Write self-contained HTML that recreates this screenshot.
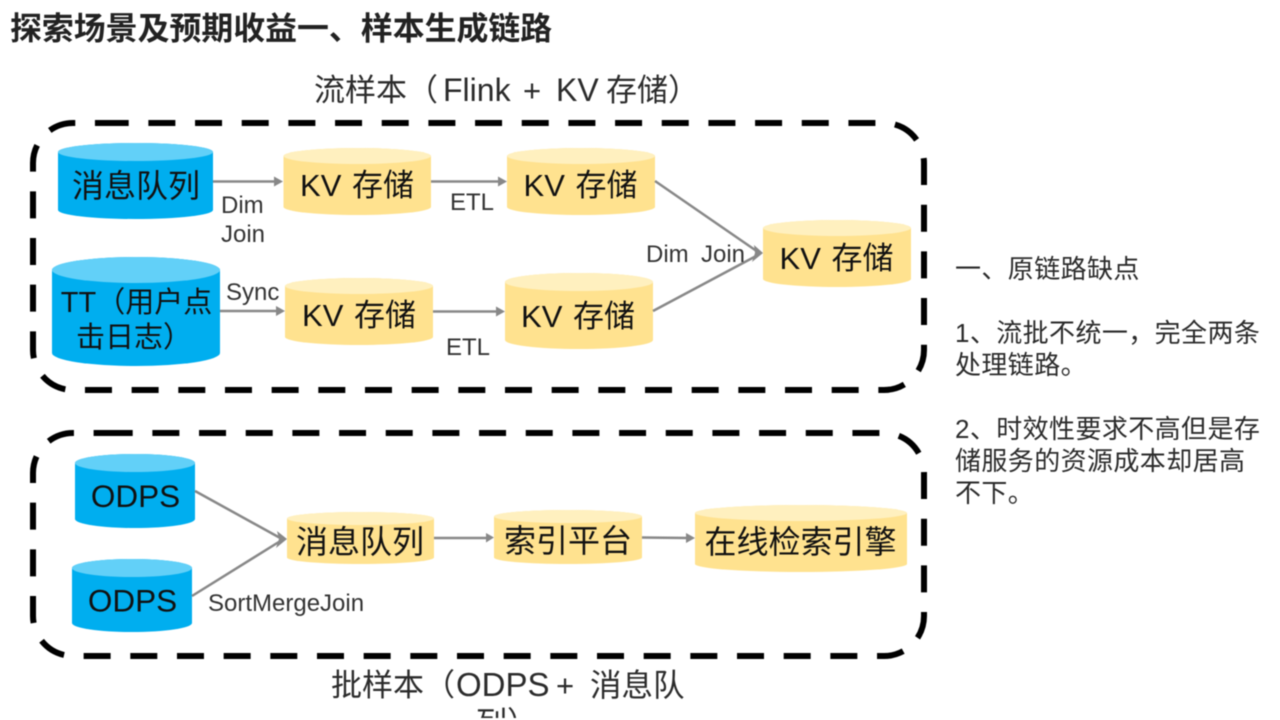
<!DOCTYPE html>
<html lang="zh">
<head>
<meta charset="utf-8">
<style>
html,body{margin:0;padding:0;background:#fff;width:1280px;height:720px;overflow:hidden}
svg{display:block;filter:blur(.5px)}
text{font-family:"Liberation Sans","Noto Sans CJK SC",sans-serif;fill:#1a1a1a}
.c{font-size:32px;text-anchor:middle;fill:#111}
.k{word-spacing:2px}
.l{font-size:24px;fill:#333}
.h{font-size:31px;fill:#2b2b2b}
.r{font-size:26px;fill:#2b2b2b;letter-spacing:.4px}
.box{fill:none;stroke:#000;stroke-width:6;stroke-dasharray:27 19.67}
.ar{stroke:#888;stroke-width:2.5;fill:none}
.hd{fill:#888}
</style>
</head>
<body>
<svg width="1280" height="720" viewBox="0 0 1280 720" xmlns="http://www.w3.org/2000/svg">
<defs>
<clipPath id="clipbottom"><rect x="0" y="0" width="1280" height="718"/></clipPath>
</defs>

<text x="10" y="39.500" style="font-size:31.900px;font-weight:700;fill:#222">探索场景及预期收益一、样本生成链路</text>
<text y="101" class="h"><tspan x="314">流样本（</tspan><tspan x="443" style="font-size:32px">Flink</tspan><tspan x="523">+</tspan><tspan x="556" style="font-size:32px">KV</tspan><tspan x="606">存储）</tspan></text>

<!-- dashed containers -->
<path class="box" d="M101.7 123 H884 A40 40 0 0 1 924 163 V350 A40 40 0 0 1 884 390 H73 A40 40 0 0 1 33 350 V163 A40 40 0 0 1 73 123 H101.7"/>
<path class="box" d="M105.7 433 H884 A40 40 0 0 1 924 473 V616 A40 40 0 0 1 884 656 H73 A40 40 0 0 1 33 616 V473 A40 40 0 0 1 73 433 H105.7"/>

<!-- blue cylinders -->
<g>
<path d="M58 152 A77.5 9 0 0 1 213 152 V210 A77.5 9 0 0 1 58 210 Z" fill="#00aeef"/>
<ellipse cx="135.5" cy="152" rx="77.5" ry="9" fill="#62d0f8"/>
<path d="M52 270 A84 13 0 0 1 220 270 V353 A84 13 0 0 1 52 353 Z" fill="#00aeef"/>
<ellipse cx="136" cy="270" rx="84" ry="13" fill="#62d0f8"/>
<path d="M75 463 A60 9 0 0 1 195 463 V519 A60 9 0 0 1 75 519 Z" fill="#00aeef"/>
<ellipse cx="135" cy="463" rx="60" ry="9" fill="#62d0f8"/>
<path d="M72 568 A60 9 0 0 1 192 568 V623 A60 9 0 0 1 72 623 Z" fill="#00aeef"/>
<ellipse cx="132" cy="568" rx="60" ry="9" fill="#62d0f8"/>
</g>

<!-- yellow cylinders -->
<g>
<path d="M283.5 156 A73.75 8 0 0 1 431 156 V207 A73.75 8 0 0 1 283.5 207 Z" fill="#ffe28f"/>
<ellipse cx="357.25" cy="156" rx="73.75" ry="8" fill="#fff0bf"/>
<path d="M285 286 A74 8 0 0 1 433 286 V337 A74 8 0 0 1 285 337 Z" fill="#ffe28f"/>
<ellipse cx="359" cy="286" rx="74" ry="8" fill="#fff0bf"/>
<path d="M507 156 A74 8 0 0 1 655 156 V207 A74 8 0 0 1 507 207 Z" fill="#ffe28f"/>
<ellipse cx="581" cy="156" rx="74" ry="8" fill="#fff0bf"/>
<path d="M505 282 A74 9 0 0 1 653 282 V340 A74 9 0 0 1 505 340 Z" fill="#ffe28f"/>
<ellipse cx="579" cy="282" rx="74" ry="9" fill="#fff0bf"/>
<path d="M763 228 A74 8 0 0 1 911 228 V279 A74 8 0 0 1 763 279 Z" fill="#ffe28f"/>
<ellipse cx="837" cy="228" rx="74" ry="8" fill="#fff0bf"/>
<path d="M287 518.5 A73.5 6.5 0 0 1 434 518.5 V557.5 A73.5 6.5 0 0 1 287 557.5 Z" fill="#ffe28f"/>
<ellipse cx="360.5" cy="518.5" rx="73.5" ry="6.5" fill="#fff0bf"/>
<path d="M494 516.5 A74 6.5 0 0 1 642 516.5 V557.5 A74 6.5 0 0 1 494 557.5 Z" fill="#ffe28f"/>
<ellipse cx="568" cy="516.5" rx="74" ry="6.5" fill="#fff0bf"/>
<path d="M695 513 A106 8 0 0 1 907 513 V564 A106 8 0 0 1 695 564 Z" fill="#ffe28f"/>
<ellipse cx="801" cy="513" rx="106" ry="8" fill="#fff0bf"/>
</g>

<!-- connectors -->
<g>
<path class="ar" d="M213 181.500 H276"/><path class="hd" d="M274 176.500 L283 181.500 L274 186.500 Z"/>
<path class="ar" d="M431 181.500 H500"/><path class="hd" d="M498 176.500 L507 181.500 L498 186.500 Z"/>
<path class="ar" d="M220 311 H278"/><path class="hd" d="M276 306 L285 311 L276 316 Z"/>
<path class="ar" d="M433 311.500 H498"/><path class="hd" d="M496 306.500 L505 311.500 L496 316.500 Z"/>
<path class="ar" d="M655 181 L758 252"/>
<path class="ar" d="M653 311 L758 255"/>
<path class="hd" d="M754 245 L763 253 L752 262 L755 253 Z"/>
<path class="ar" d="M195 491 L282 539"/>
<path class="ar" d="M192 596 L282 540"/>
<path class="hd" d="M277 531 L287 539 L276 548 L279 539 Z"/>
<path class="ar" d="M434 538 H488"/><path class="hd" d="M486 533 L494 537.500 L486 542.500 Z"/>
<path class="ar" d="M642 537.500 L688 538"/><path class="hd" d="M686 533 L695 538 L686 543 Z"/>
</g>

<!-- node labels -->
<text x="136" y="197" class="c">消息队列</text>
<text x="136.500" y="312" class="c" style="font-size:29px">TT（用户点</text>
<text x="134" y="347" class="c" style="font-size:29px">击日志）</text>
<text x="357" y="196" class="c k" style="font-size:31px">KV 存储</text>
<text x="359" y="326" class="c k" style="font-size:31px">KV 存储</text>
<text x="580.500" y="196" class="c k" style="font-size:31px">KV 存储</text>
<text x="578" y="327" class="c k" style="font-size:31px">KV 存储</text>
<text x="836.500" y="269" class="c k" style="font-size:31px">KV 存储</text>
<text x="135.500" y="507" class="c" style="font-size:31.500px">ODPS</text>
<text x="132.500" y="611.500" class="c" style="font-size:31.500px">ODPS</text>
<text x="360" y="553" class="c">消息队列</text>
<text x="568" y="552" class="c">索引平台</text>
<text x="800.500" y="553" class="c">在线检索引擎</text>

<!-- connector labels -->
<text x="221" y="213" class="l">Dim</text>
<text x="221" y="242" class="l">Join</text>
<text x="226" y="300" class="l">Sync</text>
<text x="450" y="210" class="l">ETL</text>
<text x="446" y="355" class="l">ETL</text>
<text y="262" class="l"><tspan x="646">Dim</tspan><tspan x="701">Join</tspan></text>
<text x="208" y="611" class="l">SortMergeJoin</text>

<!-- bottom caption -->
<g clip-path="url(#clipbottom)">
<text y="696" class="h"><tspan x="331">批样本（</tspan><tspan x="456" style="font-size:33px">ODPS</tspan><tspan x="556">+</tspan><tspan x="590" style="font-size:31.500px">消息队</tspan></text>
<text x="476" y="734" class="h">列）</text>
</g>

<!-- side notes -->
<text x="955" y="278" class="r">一、原链路缺点</text>
<text x="955" y="342" class="r">1、流批不统一，完全两条</text>
<text x="955" y="374" class="r">处理链路。</text>
<text x="955" y="438" class="r">2、时效性要求不高但是存</text>
<text x="955" y="470" class="r">储服务的资源成本却居高</text>
<text x="955" y="502" class="r">不下。</text>
</svg>
</body>
</html>
